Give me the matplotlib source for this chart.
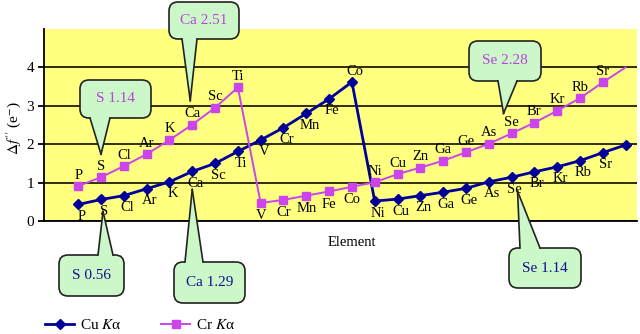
import matplotlib
matplotlib.use('Agg')
import matplotlib.pyplot as plt
from matplotlib.patches import FancyBboxPatch, Polygon
from matplotlib.lines import Line2D
from matplotlib.transforms import IdentityTransform

plt.rcParams['font.family'] = ['Liberation Serif', 'DejaVu Serif']
plt.rcParams['mathtext.fontset'] = 'stix'

# 数据
elements = ['P', 'S', 'Cl', 'Ar', 'K', 'Ca', 'Sc', 'Ti', 'V', 'Cr', 'Mn', 'Fe', 'Co',
            'Ni', 'Cu', 'Zn', 'Ga', 'Ge', 'As', 'Se', 'Br', 'Kr', 'Rb', 'Sr', '']
cu_ka = [0.43, 0.56, 0.66, 0.84, 1.02, 1.29, 1.50, 1.81, 2.11, 2.43, 2.80, 3.18, 3.62,
         0.52, 0.57, 0.66, 0.75, 0.85, 1.02, 1.14, 1.28, 1.41, 1.57, 1.78, 1.98]
cr_ka = [0.91, 1.14, 1.43, 1.74, 2.11, 2.51, 2.95, 3.48, 0.47, 0.55, 0.66, 0.77, 0.89,
         1.01, 1.22, 1.39, 1.57, 1.79, 2.01, 2.28, 2.56, 2.87, 3.20, 3.61, 4.00]
cr_below = ['V', 'Cr', 'Mn', 'Fe', 'Co']   # 这几个 Cr 标签放在点下面
cu_above = ['Co']

W, H = 640, 334
fig = plt.figure(figsize=(W / 100, H / 100), dpi=100)
fig.subplots_adjust(left=44 / W, right=637 / W, bottom=1 - 221 / H, top=1 - 29 / H)
ax = fig.add_subplot(111)
ax.set_facecolor('#ffff80')

x = list(range(len(elements)))
blue = '#000099'
mag = '#cc44ee'
l1, = ax.plot(x, cu_ka, color=blue, lw=2, marker='D', ms=5, zorder=3, label='Cu $K$α')
l2, = ax.plot(x, cr_ka, color=mag, lw=1.4, marker='s', ms=5.5, zorder=3,
              markevery=list(range(len(elements) - 1)), label='Cr $K$α')

ax.set_xlim(-1.5, 24.5)
ax.set_ylim(0, 5)
ax.set_yticks([0, 1, 2, 3, 4])
ax.set_xticks([])
ax.grid(axis='y', color='#202000', lw=1.3)
ax.set_axisbelow(True)
for s in ['top', 'right']:
    ax.spines[s].set_visible(False)
ax.spines['left'].set_linewidth(1.3)
ax.spines['bottom'].set_linewidth(1.3)
ax.tick_params(axis='y', length=4, width=1.3, labelsize=11, pad=3)

# 元素标签
for i, name in enumerate(elements):
    if not name:
        continue
    dy = 10 if name in cu_above else -12
    ax.annotate(name, (i, cu_ka[i]), xytext=(3 * 0.72, dy * 0.72), textcoords='offset points',
                ha='center', va='center', fontsize=10.5, zorder=4)
    dy = -13 if name in cr_below else 11
    ax.annotate(name, (i, cr_ka[i]), xytext=(0, dy * 0.72), textcoords='offset points',
                ha='center', va='center', fontsize=10.5, zorder=4)

fig.text(14 / W, 1 - 128 / H, r"$\Delta f^{\prime\prime}$ (e$^{-}$)", rotation=90,
         ha='center', va='center', fontsize=11)
fig.text(352 / W, 1 - 242 / H, 'Element', ha='center', va='center', fontsize=10.5)

fig.legend([l1, l2], [l1.get_label(), l2.get_label()], loc='center left',
           bbox_to_anchor=(45 / W, 1 - 325 / H), ncol=2, frameon=False, fontsize=11,
           handlelength=1.9, columnspacing=2.6, handletextpad=0.4,
           borderpad=0, borderaxespad=0)


# 标注气泡 (像素坐标, y 从上往下)
def callout(series, idx, tip_off, box, base, color):
    px, py = ax.transData.transform((idx, series[idx]))
    tx, ty = px + tip_off[0], py + tip_off[1]
    x0, y0, x1, y1 = box
    bx = FancyBboxPatch((x0, H - y1), x1 - x0, y1 - y0,
                        boxstyle='round,pad=0,rounding_size=9',
                        fc='#ccf7c8', ec='#222222', lw=1.2,
                        transform=IdentityTransform(), zorder=10)
    fig.add_artist(bx)
    # 指针在框的哪一边
    edge = H - y1 if ty < H - y1 else H - y0
    inner = edge + (2 if ty < H - y1 else -2)
    poly = Polygon([(base[0], inner), (tx, ty), (base[1], inner)], closed=True,
                   fc='#ccf7c8', ec='none', transform=IdentityTransform(), zorder=11)
    fig.add_artist(poly)
    for bxp in base:
        fig.add_artist(Line2D([bxp, tx], [edge, ty], color='#222222', lw=1.2,
                              transform=IdentityTransform(), zorder=12))
    fig.text((x0 + x1) / 2 / W, 1 - (y0 + y1) / 2 / H,
             f'{elements[idx]} {series[idx]:.2f}', ha='center', va='center',
             color=color, fontsize=11, zorder=13)


callout(cr_ka, 5, (-2, 24), (169, 2, 239, 39), (182, 197), '#bb44dd')
callout(cr_ka, 1, (0, 23), (80, 80, 151, 118), (90, 110), '#bb44dd')
callout(cr_ka, 19, (-8, 20), (469, 41, 541, 81), (498, 517), '#bb44dd')
callout(cu_ka, 1, (2, -12), (59, 255, 124, 296), (98, 113), '#101090')
callout(cu_ka, 5, (0, -18), (174, 262, 245, 303), (185, 203), '#101090')
callout(cu_ka, 19, (6, -14), (509, 248, 581, 288), (520, 540), '#101090')

plt.savefig('out.png', dpi=100)
